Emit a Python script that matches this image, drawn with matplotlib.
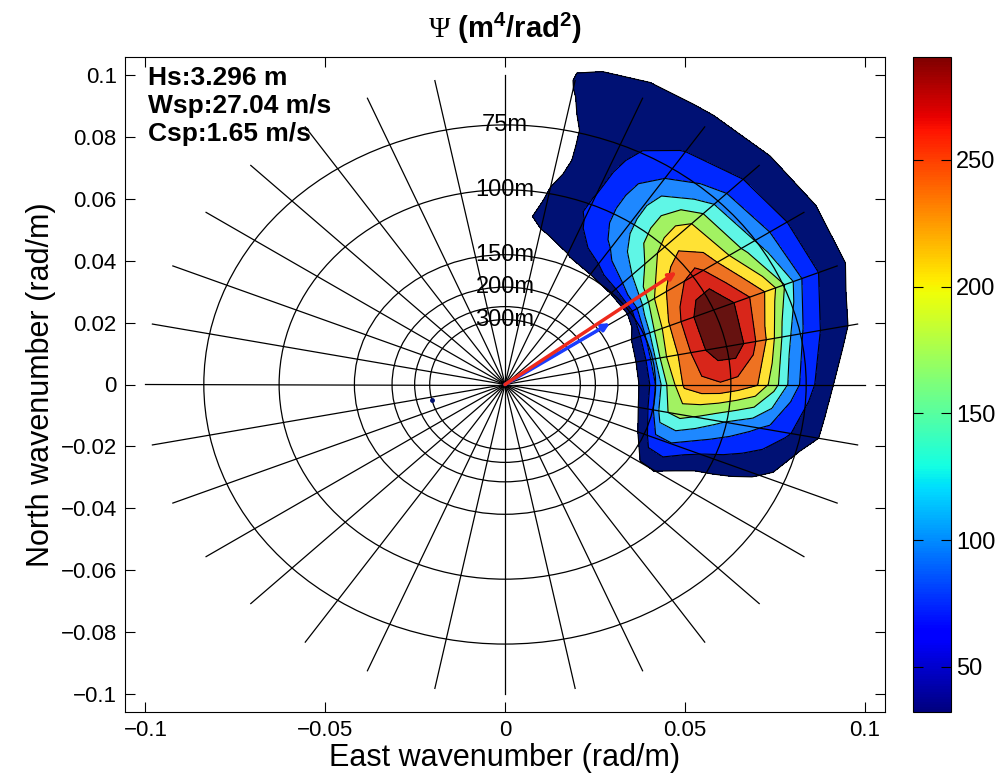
import numpy as np
import matplotlib
matplotlib.use('Agg')
import matplotlib.pyplot as plt
from matplotlib.patches import Circle
from matplotlib.colors import Normalize
from matplotlib.cm import ScalarMappable
from matplotlib.ticker import FuncFormatter

plt.rcParams['font.family'] = ['Liberation Sans', 'DejaVu Sans']
plt.rcParams['mathtext.fontset'] = 'custom'
plt.rcParams['mathtext.rm'] = 'Liberation Serif'
plt.rcParams['mathtext.bf'] = 'Liberation Sans:bold'

# spectrum grid: direction (deg, math convention) x wavenumber (rad/m)
directions = [-45, -33.75, -22.5, -11.25, 0, 11.25, 22.5, 33.75, 45,
              56.25, 67.5, 78.75, 90, 101.25]
wavenumbers = [0.030, 0.035, 0.040, 0.045, 0.050, 0.055, 0.060, 0.065, 0.070,
               0.075, 0.080, 0.085, 0.090, 0.095, 0.100, 0.105, 0.110]
psi = [
    [0, 0, 0, 0, 0, 0, 0, 0, 0, 0, 0, 0, 0, 0, 0, 0, 0],
    [0, 0, 5, 30, 33, 17, 3, 0, 0, 0, 0, 0, 0, 0, 0, 0, 0],
    [0, 0, 32, 82, 88, 70, 58, 50, 42, 35, 26, 0, 0, 0, 0, 0, 0],
    [0, 8, 51, 145, 157, 144, 126, 110, 96, 82, 65, 47, 28, 0, 0, 0, 0],
    [0, 12, 56, 148, 212, 228, 231, 222, 208, 160, 104, 68, 38, 16, 0, 0, 0],
    [0, 10, 61, 170, 213, 252, 278, 282, 245, 196, 128, 85, 58, 42, 20, 0, 0],
    [0, 10, 46, 148, 210, 250, 282, 285, 256, 226, 193, 139, 83, 58, 41, 23, 0],
    [0, 0, 14, 104, 177, 212, 234, 242, 212, 177, 141, 110, 82, 58, 44, 29, 0],
    [0, 0, 11, 80, 119, 148, 177, 190, 192, 170, 133, 102, 75, 56, 44, 30, 0],
    [0, 0, 10, 50, 80, 98, 108, 114, 115, 109, 90, 75, 62, 49, 40, 31, 0],
    [0, 0, 0, 30, 45, 58, 64, 62, 58, 55, 53, 52, 50, 47, 42, 34, 14],
    [0, 0, 0, 0, 28, 45, 36, 32, 26, 23, 24, 25, 29, 31, 33, 31, 0],
    [0, 0, 0, 0, 0, 0, 0, 0, 0, 0, 0, 0, 0, 0, 0, 0, 0],
    [0, 0, 0, 0, 0, 0, 0, 0, 0, 0, 0, 0, 0, 0, 0, 0, 0],
]
levels = [32, 61, 90, 119, 148, 177, 205, 234, 262, 400]
band_colors = ['#001174', '#0028ff', '#1e88ff', '#5ff6e6', '#a2f262',
               '#ffe234', '#ee7222', '#d8261a', '#661210']
cmin, cmax = 32.2, 290.6

wavelength_rings = [75, 100, 150, 200, 250, 300]
wavelength_labels = [75, 100, 150, 200, 300]
wind_vec = (0.0477, 0.0363)
current_vec = (0.0292, 0.0198)
spot = (-0.0202, -0.0050)
info_lines = ['Hs:3.296 m', 'Wsp:27.04 m/s', 'Csp:1.65 m/s']

fig = plt.figure(figsize=(10.08, 7.84), dpi=100)
ax = fig.add_axes([125 / 1008, 72 / 784, 760 / 1008, 655 / 784])
cax = fig.add_axes([913 / 1008, 72 / 784, 38 / 1008, 655 / 784])

th = np.deg2rad(np.array(directions))
kk = np.array(wavenumbers)
T, K = np.meshgrid(th, kk, indexing='ij')
X = K * np.cos(T)
Y = K * np.sin(T)
Z = np.array(psi, dtype=float)

ax.contourf(X, Y, Z, levels=levels, colors=band_colors, zorder=1)
ax.contour(X, Y, Z, levels=levels[:-1], colors='k', linewidths=0.8, zorder=2)

# polar grid
for ang in np.arange(0, 360, 11.25):
    a = np.deg2rad(ang)
    ax.plot([0, 0.1 * np.cos(a)], [0, 0.1 * np.sin(a)], color='k', lw=0.9, zorder=3)
for lam in wavelength_rings:
    ax.add_patch(Circle((0, 0), 2 * np.pi / lam, fill=False, ec='k', lw=0.9, zorder=3))
for lam in wavelength_labels:
    ax.text(0, 2 * np.pi / lam, f'{lam}m', ha='center', va='center', fontsize=17, zorder=4)

ax.plot(*spot, marker='o', ms=2.5, color='#00106e', zorder=4)

for vec, col in [(current_vec, '#1a3cff'), (wind_vec, '#ee2a1c')]:
    ax.annotate('', xy=vec, xytext=(0, 0),
                arrowprops=dict(arrowstyle='-|>', color=col, lw=2.5,
                                mutation_scale=11, shrinkA=0, shrinkB=0), zorder=5)

for i, line in enumerate(info_lines):
    ax.text(0.03, 0.987 - i * 0.043, line, transform=ax.transAxes, fontsize=19,
            fontweight='bold', va='top', ha='left', zorder=6)

lim = 0.1057
ax.set_xlim(-lim, lim)
ax.set_ylim(-lim, lim)
ax.set_xticks([-0.1, -0.05, 0, 0.05, 0.1])
ax.set_yticks(np.round(np.arange(-0.1, 0.1001, 0.02), 2))
fmt = FuncFormatter(lambda v, p: ('%g' % round(v, 3)).replace('-', '\u2212'))
ax.xaxis.set_major_formatter(fmt)
ax.yaxis.set_major_formatter(fmt)
ax.tick_params(direction='in', top=True, right=True, length=7, labelsize=16, pad=6)
ax.set_xlabel('East wavenumber (rad/m)', fontsize=22, labelpad=1)
ax.set_ylabel('North wavenumber (rad/m)', fontsize=22, labelpad=3)

sm = ScalarMappable(norm=Normalize(cmin, cmax), cmap='jet')
cb = fig.colorbar(sm, cax=cax, ticks=[50, 100, 150, 200, 250])
cax.tick_params(direction='in', left=True, right=True, length=7, labelsize=17)

fig.text(505 / 1008, 1 - 28 / 784, r'$\Psi$ $\mathbf{(m^4/rad^2)}$', ha='center',
         va='center', fontsize=21)

fig.savefig('out.png', dpi=100)
